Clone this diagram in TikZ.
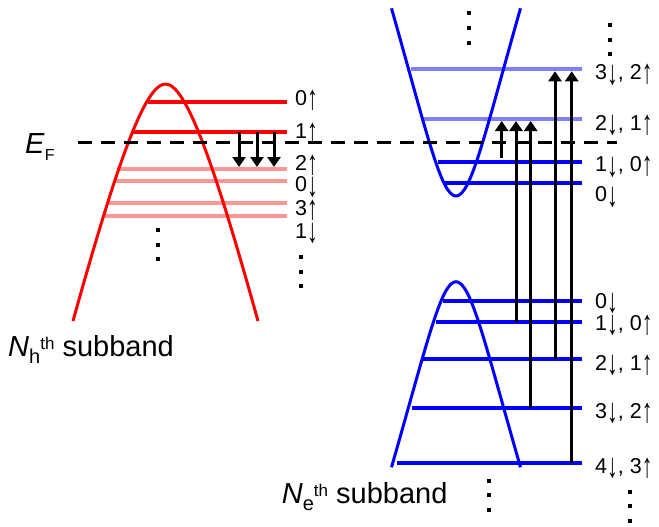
\documentclass[tikz,border=0pt]{standalone}
\usepackage{fontspec}
\setmainfont{Liberation Sans}
\usepackage{graphicx}
\usepackage{tikz}
\usetikzlibrary{arrows.meta}
\definecolor{lightred}{RGB}{255,150,150}
\definecolor{lightblue}{RGB}{128,128,255}
\newcommand{\upa}{\raisebox{-4pt}{\scalebox{1}[1.6]{↑}}}
\newcommand{\dna}{\raisebox{-4.5pt}{\scalebox{1}[1.6]{↓}}}

\begin{document}
\begin{tikzpicture}[x=1pt, y=-1pt,
        band/.style={line width=3pt},
        level/.style={line width=4pt},
        trans/.style={line width=3pt, -{Triangle[width=13pt,length=10pt]}, shorten >=2pt},
        lbl/.style={anchor=base west, inner sep=0pt, font=\fontsize{21.5}{21.5}\selectfont},
        big/.style={anchor=base west, inner sep=0pt, font=\fontsize{29}{29}\selectfont}]
            \useasboundingbox (0,0) rectangle (659,527);

            \foreach \n/\xs/\y in {0/148/101.7, 1/132/131.7}
                \draw[level, red] (\xs,\y) -- (287,\y) coordinate (h\n);
            \foreach \n/\xs/\y in {2/117/169, 3/116/181, 4/107/202.7, 5/105/215.7}
                \draw[level, lightred] (\xs,\y) -- (287,\y) coordinate (h\n);
            \foreach \n/\xs/\y in {0/443/183.3, 1/438/161.7}
                \draw[level, blue] (\xs,\y) -- (582,\y) coordinate (c\n);
            \foreach \n/\xs/\y in {2/423/119, 3/410.7/69.3}
                \draw[level, lightblue] (\xs,\y) -- (582,\y) coordinate (c\n);
            \foreach \n/\xs/\y in {0/442.7/301, 1/436/321.7, 2/423/359.3, 3/411.7/408.3, 4/396.7/462.7}
                \draw[level, blue] (\xs,\y) -- (582,\y) coordinate (v\n);

            \draw[band, red] (73,321) .. controls (117,163) and (145,84) .. (165.5,84)
                .. controls (186,84) and (214,163) .. (258,321);
            \draw[band, blue] (391.5,8.3) .. controls (427,133.4) and (441,196) .. (456,196)
                .. controls (471,196) and (485,133.4) .. (520.5,8.3);
            \draw[band, blue] (391.5,467.3) .. controls (427,343.6) and (441,281.7) .. (456,281.7)
                .. controls (471,281.7) and (485,343.6) .. (520.5,467.3);

            \draw[line width=3.5pt, dash pattern=on 14pt off 9pt] (78,142.5) coordinate (ef0) -- (617,142.5) coordinate (ef1);

            \foreach \x in {239,257,274}
                \draw[trans] (\x,0 |- h1) -- (\x,0 |- h2);
            \draw[trans, shorten <=3.5pt] (501.7,0 |- c1) -- (501.7,0 |- c2);
            \foreach \x/\a/\b in {516/v1/c2, 530.7/v3/c2, 555/v2/c3, 571.7/v4/c3}
                \draw[trans] (\x,0 |- \a) -- (\x,0 |- \b);

            \foreach \x/\y in {158/230, 301/257, 469.3/13.3, 610/25, 489.3/480.7, 630/491.7}
                \foreach \d in {0,14.7,29.4}
                    \fill ({\x-2},{\y+\d-2}) rectangle +(4,4);

            \foreach \y/\t [count=\i] in {106/0\upa, 139/1\upa, 170/2\upa, 191.7/0\dna, 215/3\upa, 238.3/1\dna}
                \node[lbl] (hlab\i) at (295,\y) {\t};
            \foreach \y/\t [count=\i] in {80/{3\dna, 2\upa}, 130/{2\dna, 1\upa}, 171.7/{1\dna, 0\upa}, 201.7/0\dna,
                    308/0\dna, 330/{1\dna, 0\upa}, 370/{2\dna, 1\upa}, 418/{3\dna, 2\upa}, 473.3/{4\dna, 3\upa}}
                \node[lbl] (elab\i) at (595,\y) {\t};

            \node[big] (fermi) at (25,153.3) {\textit{E}\raisebox{-7.4pt}{\fontsize{16}{16}\selectfont F}};
            \node[big] (hsub) at (8,356.5) {\textit{N}\raisebox{-7pt}{\fontsize{20}{20}\selectfont h}\raisebox{7pt}{\fontsize{17}{17}\selectfont th} subband};
            \node[big] (esub) at (281.7,503.3) {\textit{N}\raisebox{-7pt}{\fontsize{20}{20}\selectfont e}\raisebox{7pt}{\fontsize{17}{17}\selectfont th} subband};
         \end{tikzpicture}
\end{document}
